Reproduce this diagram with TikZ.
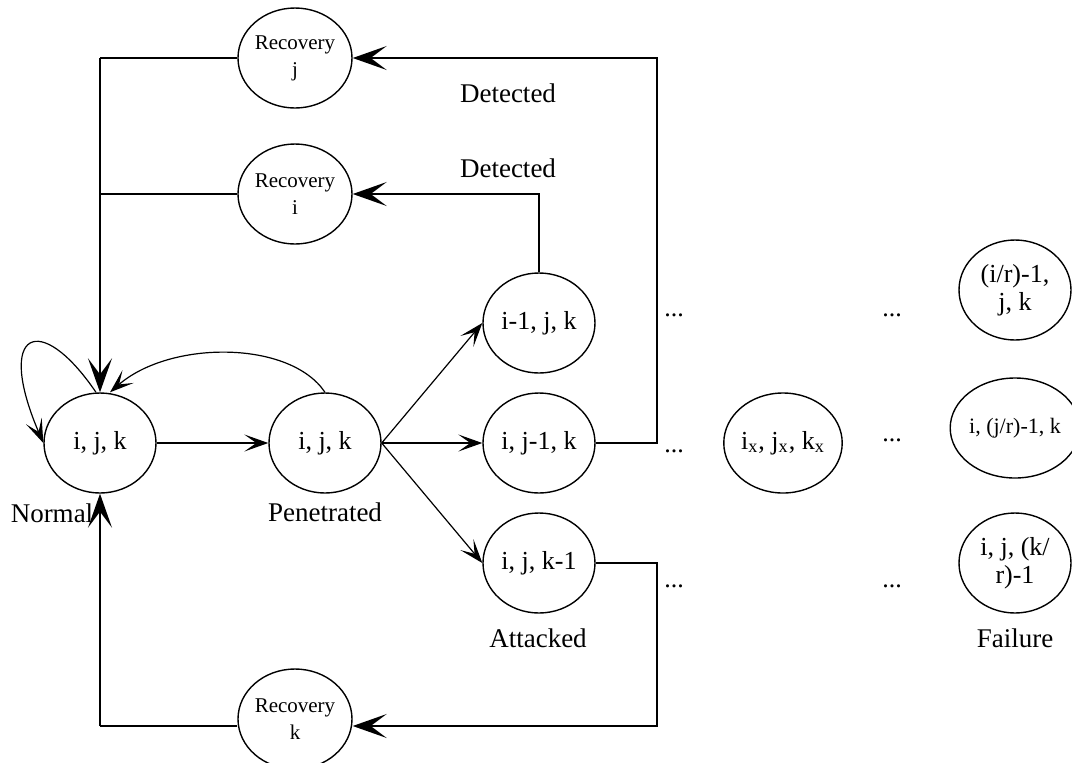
\documentclass[tikz,border=0pt]{standalone}
\usepackage{fontspec}
\setmainfont{Liberation Serif}
\usetikzlibrary{shapes.geometric,arrows.meta}
\begin{document}
\begin{tikzpicture}[x=0.5pt,y=-0.5pt,
  st/.style={ellipse,draw,line width=0.7pt,minimum width=56pt,minimum height=50pt,inner sep=0pt,font=\fontsize{13}{14}\selectfont,align=center},
  rec/.style={st,minimum width=57pt,font=\fontsize{10.5}{13.5}\selectfont},
  sm/.style={st,font=\fontsize{11}{13}\selectfont},
  lbl/.style={font=\fontsize{13.5}{15}\selectfont,inner sep=0pt},
  dots/.style={font=\fontsize{13}{15}\selectfont,inner sep=0pt},
  ln/.style={line width=0.8pt},
  big/.style={ln,-{Stealth[length=17pt,width=12pt,inset=8pt]}},
  small/.style={line width=0.6pt,-{Stealth[length=12pt,width=8.5pt,inset=6pt]}}
]
\useasboundingbox (0,0) rectangle (1072,762);
% nodes
\node[rec] (rj) at (295,58) {Recovery\\j};
\node[rec] (ri) at (295,194) {Recovery\\i};
\node[rec] (rk) at (295,719) {Recovery\\k};
\node[st] (n) at (100,443) {i, j, k};
\node[st] (p) at (325,443) {i, j, k};
\node[st] (a1) at (539,323) {i-1, j, k};
\node[st] (a2) at (539,443) {i, j-1, k};
\node[st] (a3) at (539,563) {i, j, k-1};
\node[st] (x) at (783,443) {i\textsubscript{x}, j\textsubscript{x}, k\textsubscript{x}};
\node[st] (f1) at (1015,290) {(i/r)-1,\\j, k};
\node[sm] (f2) at (1015,428) {i, (j/r)-1, k};
\node[st] (f3) at (1015,563) {i, j, (k/\\r)-1};
% labels
\node[lbl] (ld1) at (508,93) {Detected};
\node[lbl] (ld2) at (508,168) {Detected};
\node[lbl] (lN) at (52,513) {Normal};
\node[lbl] (lP) at (325,512) {Penetrated};
\node[lbl] (lA) at (538,638) {Attacked};
\node[lbl] (lF) at (1015,638) {Failure};
\node[dots] (d1) at (674,315) {...};
\node[dots] (d2) at (674,451) {...};
\node[dots] (d3) at (674,586) {...};
\node[dots] (d4) at (892,315) {...};
\node[dots] (d5) at (892,440) {...};
\node[dots] (d6) at (892,586) {...};
% coordinates
\coordinate (tl) at (100,58);
\coordinate (ml) at (100,194);
\coordinate (bl) at (100,726);
\coordinate (tr) at (657,58);
\coordinate (mr) at (657,443);
\coordinate (br1) at (657,563);
\coordinate (br2) at (657,726);
\coordinate (a1t) at (539,194);
% recovery lines
\draw[ln] (rj.west) -- (tl);
\draw[ln] (ri.west) -- (ml);
\draw[big] (tl) -- (n.north);
\draw[ln] (rk.west |- bl) -- (bl);
\draw[big] (bl) -- (n.south);
\draw[big] (a2.east) -- (mr) -- (tr) -- (rj.east);
\draw[big] (a1.north) -- (a1t) -- (ri.east);
\draw[big] (a3.east) -- (br1) -- (br2) -- (rk.east |- br2);
% transitions
\draw[small] (n.east) -- (p.west);
\draw[small] (p.east) -- (a1.west);
\draw[small] (p.east) -- (a2.west);
\draw[small] (p.east) -- (a3.west);
\draw[small] (p.north) .. controls (290,340) and (170,340) .. ([xshift=5pt]n.north);
\draw[small] ([xshift=-2pt]n.north) .. controls (40,310) and (-5,330) .. (n.west);
\end{tikzpicture}
\end{document}
